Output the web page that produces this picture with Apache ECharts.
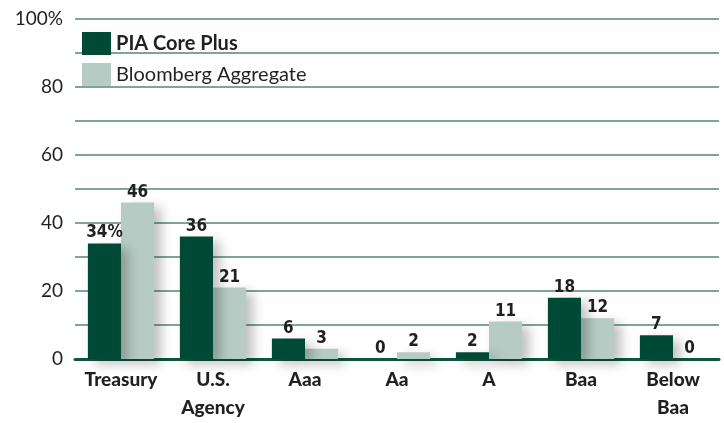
<!DOCTYPE html>
<html><head><meta charset="utf-8">
<script src="https://cdn.jsdelivr.net/npm/echarts@6/dist/echarts.min.js"></script>
<style>html,body{margin:0;padding:0;background:#fff}#c{width:724px;height:423px}</style>
</head><body><div id="c"></div>
<script>
const categories = ['Treasury', 'U.S.\nAgency', 'Aaa', 'Aa', 'A', 'Baa', 'Below\nBaa'];
const piaCorePlus = [34, 36, 6, 0, 2, 18, 7];
const bloombergAggregate = [46, 21, 3, 2, 11, 12, 0];
const seriesNames = ['PIA Core Plus', 'Bloomberg Aggregate'];

const chart = echarts.init(document.getElementById('c'));
const labelStyle = {
  show: true, position: 'top', distance: 2,
  fontFamily: 'DejaVu Sans Condensed', fontWeight: 'bold', fontSize: 17, color: '#231f20'
};
chart.setOption({
  animation: false,
  grid: { left: 75, right: 5, top: 19, bottom: 64, outerBoundsMode: 'none' },
  legend: {
    left: 77, top: 27, orient: 'vertical', itemWidth: 29, itemHeight: 23, itemGap: 8,
    icon: 'rect',
    textStyle: { fontFamily: 'Lato', fontSize: 20, color: '#231f20' },
    data: seriesNames.map(n => ({ name: n, textStyle: n === seriesNames[0] ? { fontWeight: 'bold', fontSize: 20 } : { fontSize: 20 } }))
  },
  xAxis: {
    type: 'category', data: categories,
    axisLine: { lineStyle: { color: '#0f5540', width: 3 } },
    axisTick: { show: false },
    axisLabel: { fontFamily: 'Lato', fontWeight: 900, fontSize: 19, color: '#231f20',
      lineHeight: 28, margin: 7, interval: 0 }
  },
  yAxis: {
    type: 'value', min: 0, max: 100, interval: 10,
    axisLine: { show: false }, axisTick: { show: false },
    splitLine: { lineStyle: { color: '#7fa596', width: 2 } },
    axisLabel: { fontFamily: 'Lato', fontSize: 19, color: '#231f20', margin: 12,
      formatter: v => v % 20 !== 0 ? '' : (v === 100 ? '100%' : String(v)) }
  },
  series: [
    { name: seriesNames[0], type: 'bar', data: piaCorePlus, barGap: '0%', barCategoryGap: '28%',
      itemStyle: { color: '#004a35', shadowColor: 'rgba(0,0,0,0.25)', shadowBlur: 12, shadowOffsetX: 7, shadowOffsetY: 5 },
      label: Object.assign({}, labelStyle, { formatter: p => p.dataIndex === 0 ? p.value + '%' : String(p.value) }),
      z: 3 },
    { name: seriesNames[1], type: 'bar', data: bloombergAggregate,
      itemStyle: { color: '#b6cbc3', shadowColor: 'rgba(0,0,0,0.25)', shadowBlur: 12, shadowOffsetX: 7, shadowOffsetY: 5 },
      label: Object.assign({}, labelStyle, { formatter: p => String(p.value) }),
      z: 2 }
  ]
});
</script></body></html>
